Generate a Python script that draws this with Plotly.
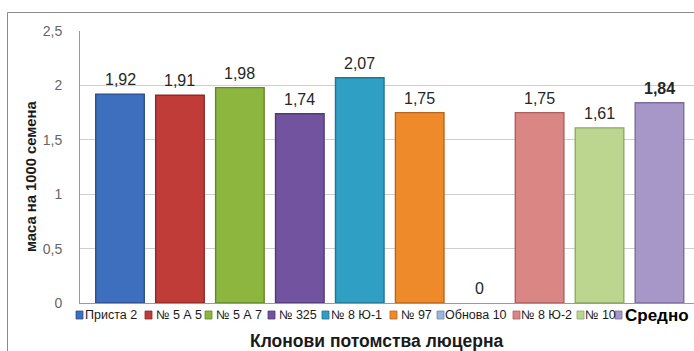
import plotly.graph_objects as go

# ---------------- data ----------------
categories = ["Приста 2", "№ 5 А 5", "№ 5 А 7", "№ 325", "№ 8 Ю-1",
              "№ 97", "Обнова 10", "№ 8 Ю-2", "№ 10", "Средно"]
values = [1.92, 1.91, 1.98, 1.74, 2.07, 1.75, 0, 1.75, 1.61, 1.84]
y_ticks = [0, 0.5, 1, 1.5, 2, 2.5]
x_title = "Клонови потомства люцерна"
y_title = "маса на 1000 семена"

# ---------------- style ----------------
fill_colors = ["#3e6fbf", "#c03c38", "#8db63f", "#71539f", "#2fa0c3",
               "#ef8a2b", "#9cb5dd", "#da8684", "#bcd690", "#a797c9"]
edge_colors = ["#2b4f8c", "#8c2a27", "#66862c", "#503a74", "#1f7592",
               "#b8661c", "#7089b2", "#a9605f", "#8fa86a", "#7c6c9c"]
bold_last = True

W, H = 694, 351
L, T, B = 80, 31, 48
PW = W - L
PH = H - T - B


def px_x(px):
    return (px - L) / PW


def px_y(py):
    return (H - B - py) / PH


def fmt(v):
    if v == 0:
        return "0"
    return f"{v:.2f}".replace(".", ",")


FONT = "Liberation Sans, Arial, sans-serif"

fig = go.Figure()
fig.add_trace(go.Bar(
    x=categories, y=values, width=0.81,
    marker=dict(color=fill_colors,
                line=dict(color=edge_colors,
                          width=[1.4 if v > 0 else 0 for v in values])),
    showlegend=False, hoverinfo="x+y",
))

annotations = []
# value labels
for i, (c, v) in enumerate(zip(categories, values)):
    is_last = bold_last and i == len(categories) - 1
    txt = fmt(v)
    annotations.append(dict(
        x=c, y=v, xref="x", yref="y", text=f"<b>{txt}</b>" if is_last else txt,
        showarrow=False, xanchor="center", yanchor="bottom", yshift=4,
        font=dict(family=FONT, size=16, color="#262626"),
    ))

# legend (drawn as text + squares, laid out like the original)
marker_left = [76, 145, 205, 268, 322, 390, 437, 513, 577, 615]
text_left = [83, 154, 214, 277, 329, 399, 443, 519, 583, 623]
shapes = []
for i, c in enumerate(categories):
    is_last = i == len(categories) - 1
    shapes.append(dict(
        type="rect", xref="paper", yref="paper",
        x0=px_x(marker_left[i]), x1=px_x(marker_left[i] + 7),
        y0=px_y(319), y1=px_y(311),
        fillcolor=fill_colors[i], line=dict(color=edge_colors[i], width=0.8),
    ))
    annotations.append(dict(
        x=px_x(text_left[i]), y=px_y(315), xref="paper", yref="paper",
        xanchor="left", yanchor="middle", showarrow=False,
        text=f"<b>{c}</b>" if is_last else c,
        font=dict(family=FONT, size=17 if is_last else 12.5,
                  color="#000000" if is_last else "#1a1a1a"),
    ))

# axis titles
annotations.append(dict(
    x=px_x(376), y=px_y(341), xref="paper", yref="paper", showarrow=False,
    xanchor="center", yanchor="middle",
    text=f"<b>{x_title}</b>", font=dict(family=FONT, size=17.5, color="#1a1a1a"),
))
annotations.append(dict(
    x=px_x(31), y=px_y(177), xref="paper", yref="paper", showarrow=False,
    xanchor="center", yanchor="middle",
    text=f"<b>{y_title}</b>", textangle=-90,
    font=dict(family=FONT, size=14.8, color="#1a1a1a"),
))

# outer chart border
shapes.append(dict(
    type="rect", xref="paper", yref="paper", layer="below",
    x0=px_x(7.5), x1=px_x(W + 20), y0=px_y(H + 20), y1=px_y(12.5),
    line=dict(color="#8a8a8a", width=1), fillcolor="rgba(0,0,0,0)",
))

fig.update_layout(
    width=W, height=H,
    margin=dict(l=L, r=0, t=T, b=B, pad=0),
    paper_bgcolor="white", plot_bgcolor="white",
    separators=", ",
    barmode="overlay",
    annotations=annotations, shapes=shapes,
    font=dict(family=FONT),
    xaxis=dict(
        type="category", range=[-(120 - L) / 59.94, (W - 120) / 59.94],
        showticklabels=False, showgrid=False, zeroline=False,
        showline=True, linecolor="#9a9a9a", linewidth=1, ticks="",
        fixedrange=True,
    ),
    yaxis=dict(
        range=[0, 2.5], tickvals=y_ticks, showgrid=True,
        gridcolor="#cfcfcf", gridwidth=1, zeroline=False,
        showline=True, linecolor="#9a9a9a", linewidth=1,
        ticks="", ticklabelstandoff=14,
        tickfont=dict(family=FONT, size=14, color="#666666"),
        fixedrange=True,
    ),
)

fig.write_html("out.html")
